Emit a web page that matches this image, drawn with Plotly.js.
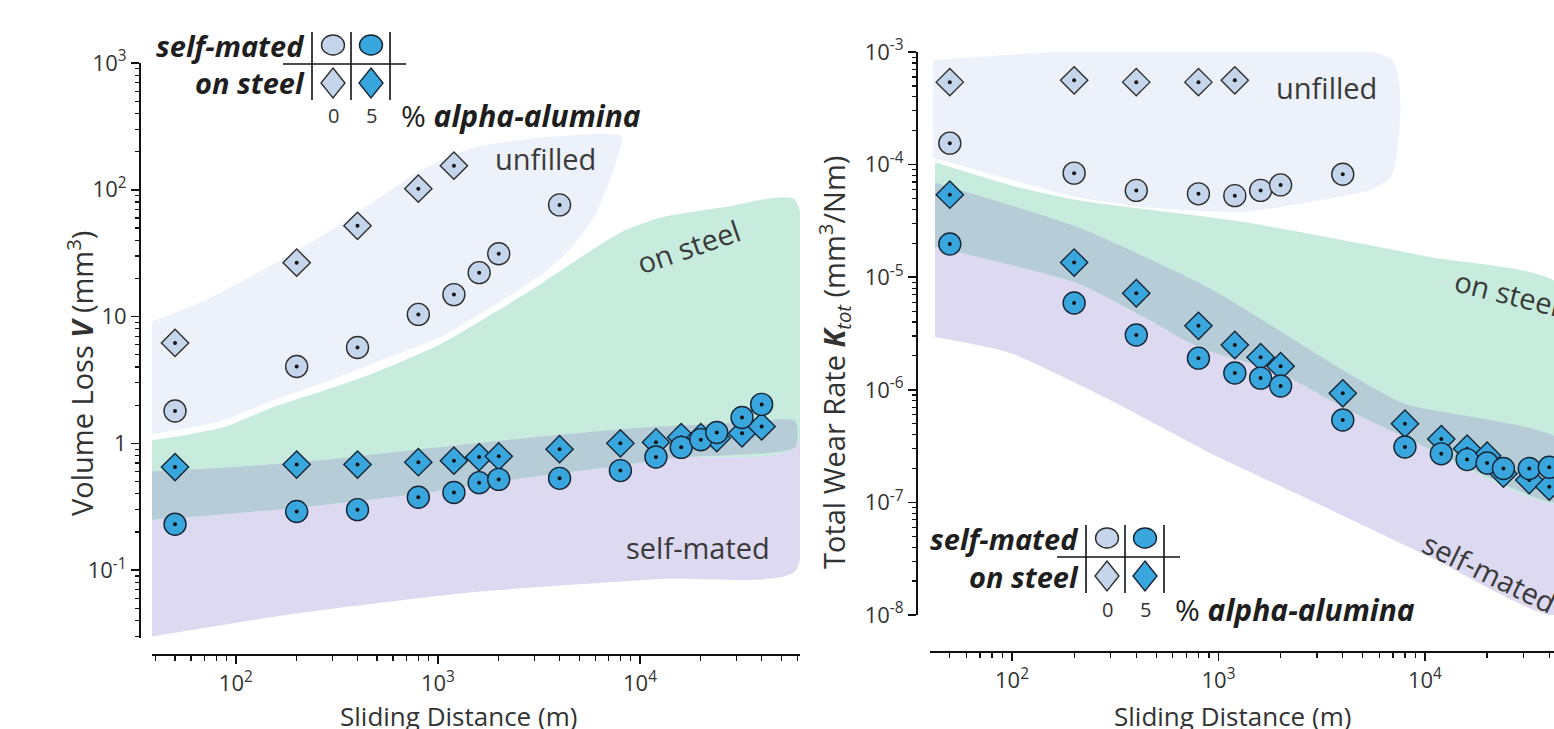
<!DOCTYPE html>
<html>
<head>
<meta charset="utf-8">
<script src="https://cdn.plot.ly/plotly-3.0.1.min.js"></script>
<style>
html,body{margin:0;padding:0;background:#ffffff;}
#chart{width:1554px;height:729px;}
</style>
</head>
<body>
<div id="chart"></div>
<script>
// ---------------- DATA ----------------
// Sliding distances (m)
const distance5 = [50, 200, 400, 800, 1200, 1600, 2000, 4000, 8000, 12000, 16000, 20000, 24000, 32000, 40000];
const distanceUnfilledSteel = [50, 200, 400, 800, 1200];
const distanceUnfilledSelf = [50, 200, 400, 800, 1200, 1600, 2000, 4000];

// Left panel: Volume loss V (mm^3)
const volUnfilledSelf = [1.8, 4.04, 5.7, 10.4, 14.9, 22.2, 31.3, 76];
const volUnfilledSteel = [6.2, 26.6, 52, 102, 155];
const volAluminaSelf = [0.23, 0.29, 0.30, 0.376, 0.41, 0.49, 0.52, 0.53, 0.61, 0.78, 0.93, 1.07, 1.22, 1.6, 2.03];
const volAluminaSteel = [0.65, 0.68, 0.68, 0.71, 0.73, 0.78, 0.79, 0.90, 1.0, 1.02, 1.12, 1.12, 1.1, 1.2, 1.36];

// Right panel: Total wear rate K_tot (mm^3/Nm)
const kUnfilledSteel = [5.4e-4, 5.6e-4, 5.4e-4, 5.4e-4, 5.6e-4];
const kUnfilledSelf = [1.55e-4, 8.4e-5, 5.9e-5, 5.5e-5, 5.3e-5, 5.9e-5, 6.6e-5, 8.2e-5];
const kAluminaSteel = [5.4e-5, 1.35e-5, 7.2e-6, 3.7e-6, 2.5e-6, 1.95e-6, 1.62e-6, 9.3e-7, 5.0e-7, 3.65e-7, 3.0e-7, 2.6e-7, 1.8e-7, 1.58e-7, 1.38e-7];
const kAluminaSelf = [1.97e-5, 5.9e-6, 3.07e-6, 1.91e-6, 1.41e-6, 1.27e-6, 1.08e-6, 5.4e-7, 3.1e-7, 2.7e-7, 2.4e-7, 2.24e-7, 2.0e-7, 2.0e-7, 2.05e-7];

// Shaded regions, left panel (distance, volume)
const bandL_unfilledLow_x = [38.4, 86.2, 152, 282, 476, 1023, 2028, 3200, 4500, 5990, 7270, 8150];
const bandL_unfilledLow_y = [1.18, 1.517, 2.18, 3.08, 4.27, 6.84, 13.1, 21.0, 33.7, 63.5, 131, 240];
const bandL_unfilledHigh_x = [38.4, 71.8, 152, 327, 805, 1490, 3200, 6340, 8150];
const bandL_unfilledHigh_y = [9.12, 13.6, 25.7, 53, 139, 215, 257, 275, 266];
const bandL_steelTop_x = [38.4, 86.2, 152, 282, 476, 1023, 2028, 3200, 5050, 8150, 12560, 27000, 58500];
const bandL_steelTop_y = [1.056, 1.336, 1.92, 2.66, 3.56, 6.02, 11.4, 17.9, 29.1, 46.7, 60.2, 73.5, 83.4];
const bandL_steelBottom_x = [38.4, 200, 800, 2000, 4000, 8000, 15000, 58500];
const bandL_steelBottom_y = [0.25, 0.31, 0.40, 0.50, 0.58, 0.67, 0.77, 0.93];
const bandL_selfTop_x = [38.4, 100, 300, 1000, 3000, 10000, 30000, 58500];
const bandL_selfTop_y = [0.60, 0.65, 0.75, 0.93, 1.12, 1.33, 1.45, 1.50];
const bandL_selfBottom_x = [38.4, 224, 1490, 12570, 58500];
const bandL_selfBottom_y = [0.030, 0.0467, 0.067, 0.085, 0.098];

// Shaded regions, right panel (distance, wear rate)
const bandR_unfilledLow_x = [41.4, 206, 430, 1315, 2775, 5500, 6920];
const bandR_unfilledLow_y = [1.15e-4, 5.15e-5, 4.2e-5, 3.8e-5, 4.65e-5, 6.0e-5, 8.0e-5];
const bandR_unfilledHigh_x = [41.4, 6920];
const bandR_unfilledHigh_y = [8.5e-4, 8.5e-4];
const bandR_steelTop_x = [42.4, 98, 206, 1315, 10570, 45000];
const bandR_steelTop_y = [1.05e-4, 6.6e-5, 4.85e-5, 3.1e-5, 1.51e-5, 8.5e-6];
const bandR_steelBottom_x = [42.4, 206, 430, 800, 2000, 4000, 8000, 45000];
const bandR_steelBottom_y = [1.86e-5, 8.9e-6, 4.5e-6, 2.4e-6, 1.4e-6, 7.0e-7, 3.8e-7, 1.0e-7];
const bandR_selfTop_x = [42.4, 206, 900, 4000, 8000, 45000];
const bandR_selfTop_y = [6.9e-5, 2.8e-5, 8e-6, 1.5e-6, 7.5e-7, 3.6e-7];
const bandR_selfBottom_x = [42.4, 98, 299, 910, 2775, 10570, 45000];
const bandR_selfBottom_y = [2.94e-6, 2.12e-6, 8.1e-7, 2.75e-7, 1.05e-7, 3.27e-8, 1.0e-8];

// Tick labels
const xTickVals = [100, 1000, 10000];
const xTickText = ['10<sup>2</sup>', '10<sup>3</sup>', '10<sup>4</sup>'];
const yLeftTickVals = [0.1, 1, 10, 100, 1000];
const yLeftTickText = ['10<sup>-1</sup>', '1', '10', '10<sup>2</sup>', '10<sup>3</sup>'];
const yRightTickVals = [1e-8, 1e-7, 1e-6, 1e-5, 1e-4, 1e-3];
const yRightTickText = ['10<sup>-8</sup>', '10<sup>-7</sup>', '10<sup>-6</sup>', '10<sup>-5</sup>', '10<sup>-4</sup>', '10<sup>-3</sup>'];

// ---------------- STYLE ----------------
const W = 1554, H = 729;
const px = v => v / W;
const py = v => 1 - v / H;
const FONT = 'Open Sans, sans-serif';
const C_UNFILLED = 'rgb(237,241,250)';
const C_STEEL = 'rgb(199,236,222)';
const C_SELF = 'rgb(220,217,240)';
const C_OVERLAP = 'rgb(182,204,215)';
const C_LIGHT = 'rgb(197,214,236)';
const C_BLUE = 'rgb(58,166,222)';
const C_EDGE_LIGHT = '#2e2e2e';
const C_EDGE_BLUE = '#152535';

function minorTicks(k0, k1) {
  const out = [];
  for (let k = k0; k <= k1; k++) for (let m = 2; m <= 9; m++) out.push(m * Math.pow(10, k));
  return out;
}

function band(lx, ly, ux, uy, color, xa, ya) {
  return {
    type: 'scatter', mode: 'lines', xaxis: xa, yaxis: ya,
    x: lx.concat(ux.slice().reverse()), y: ly.concat(uy.slice().reverse()),
    fill: 'toself', fillcolor: color,
    line: {width: 0, color: color, shape: 'spline', smoothing: 0.6},
    hoverinfo: 'skip', showlegend: false
  };
}
function markers(x, y, symbol, fill, edge, size, xa, ya) {
  return {
    type: 'scatter', mode: 'markers', xaxis: xa, yaxis: ya, x: x, y: y,
    marker: {symbol: symbol, size: size, color: fill, line: {color: edge, width: 1.4}},
    hoverinfo: 'skip', showlegend: false
  };
}
function dots(x, y, xa, ya) {
  return {
    type: 'scatter', mode: 'markers', xaxis: xa, yaxis: ya, x: x, y: y,
    marker: {symbol: 'circle', size: 4, color: '#111'},
    hoverinfo: 'skip', showlegend: false
  };
}

const traces = [
  // left bands
  band(bandL_unfilledLow_x, bandL_unfilledLow_y, bandL_unfilledHigh_x, bandL_unfilledHigh_y, C_UNFILLED, 'x', 'y'),
  band(bandL_selfBottom_x, bandL_selfBottom_y, bandL_selfTop_x, bandL_selfTop_y, C_SELF, 'x', 'y'),
  band(bandL_steelBottom_x, bandL_steelBottom_y, bandL_steelTop_x, bandL_steelTop_y, C_STEEL, 'x', 'y'),
  band(bandL_steelBottom_x, bandL_steelBottom_y, bandL_selfTop_x, bandL_selfTop_y, C_OVERLAP, 'x', 'y'),
  // right bands
  band(bandR_unfilledLow_x, bandR_unfilledLow_y, bandR_unfilledHigh_x, bandR_unfilledHigh_y, C_UNFILLED, 'x2', 'y2'),
  band(bandR_selfBottom_x, bandR_selfBottom_y, bandR_selfTop_x, bandR_selfTop_y, C_SELF, 'x2', 'y2'),
  band(bandR_steelBottom_x, bandR_steelBottom_y, bandR_steelTop_x, bandR_steelTop_y, C_STEEL, 'x2', 'y2'),
  band(bandR_steelBottom_x, bandR_steelBottom_y, bandR_selfTop_x, bandR_selfTop_y, C_OVERLAP, 'x2', 'y2'),

  // left markers
  markers(distanceUnfilledSteel, volUnfilledSteel, 'diamond', C_LIGHT, C_EDGE_LIGHT, 21, 'x', 'y'),
  dots(distanceUnfilledSteel, volUnfilledSteel, 'x', 'y'),
  markers(distance5, volAluminaSteel, 'diamond', C_BLUE, C_EDGE_BLUE, 21, 'x', 'y'),
  dots(distance5, volAluminaSteel, 'x', 'y'),
  markers(distanceUnfilledSelf, volUnfilledSelf, 'circle', C_LIGHT, C_EDGE_LIGHT, 22, 'x', 'y'),
  dots(distanceUnfilledSelf, volUnfilledSelf, 'x', 'y'),
  markers(distance5, volAluminaSelf, 'circle', C_BLUE, C_EDGE_BLUE, 22, 'x', 'y'),
  dots(distance5, volAluminaSelf, 'x', 'y'),

  // right markers
  markers(distanceUnfilledSteel, kUnfilledSteel, 'diamond', C_LIGHT, C_EDGE_LIGHT, 21, 'x2', 'y2'),
  dots(distanceUnfilledSteel, kUnfilledSteel, 'x2', 'y2'),
  markers(distance5, kAluminaSteel, 'diamond', C_BLUE, C_EDGE_BLUE, 21, 'x2', 'y2'),
  dots(distance5, kAluminaSteel, 'x2', 'y2'),
  markers(distanceUnfilledSelf, kUnfilledSelf, 'circle', C_LIGHT, C_EDGE_LIGHT, 22, 'x2', 'y2'),
  dots(distanceUnfilledSelf, kUnfilledSelf, 'x2', 'y2'),
  markers(distance5, kAluminaSelf, 'circle', C_BLUE, C_EDGE_BLUE, 22, 'x2', 'y2'),
  dots(distance5, kAluminaSelf, 'x2', 'y2')
];

// ---------------- AXES ----------------
function logAxis(opts) {
  return Object.assign({
    type: 'log', anchor: 'free', showline: true, linecolor: '#111', linewidth: 2,
    ticks: 'outside', ticklen: 8, tickwidth: 1.6, tickcolor: '#111',
    tickmode: 'array', tickfont: {family: FONT, size: 22, color: '#333'},
    showgrid: false, zeroline: false, fixedrange: true
  }, opts);
}
const minorStyle = (vals) => ({tickmode: 'array', tickvals: vals, ticks: 'outside', ticklen: 4.5, tickwidth: 1.2, tickcolor: '#111', showgrid: false});

// ---------------- LEGEND TABLES & TEXT ----------------
const shapes = [];
const annotations = [];
function seg(x0, y0, x1, y1) {
  shapes.push({type: 'line', xref: 'paper', yref: 'paper', x0: px(x0), y0: py(y0), x1: px(x1), y1: py(y1), line: {color: '#111', width: 1.6}});
}
function ellipse(cx, cy, w, h, fill, edge) {
  shapes.push({type: 'circle', xref: 'paper', yref: 'paper', x0: px(cx - w / 2), x1: px(cx + w / 2), y0: py(cy + h / 2), y1: py(cy - h / 2), fillcolor: fill, line: {color: edge, width: 1.4}});
}
function rhombus(cx, cy, w, h, fill, edge) {
  const p = 'M ' + px(cx) + ' ' + py(cy - h / 2) + ' L ' + px(cx + w / 2) + ' ' + py(cy) + ' L ' + px(cx) + ' ' + py(cy + h / 2) + ' L ' + px(cx - w / 2) + ' ' + py(cy) + ' Z';
  shapes.push({type: 'path', xref: 'paper', yref: 'paper', path: p, fillcolor: fill, line: {color: edge, width: 1.4}});
}
function ann(x, y, text, o) {
  o = o || {};
  annotations.push({
    xref: 'paper', yref: 'paper', x: px(x), y: py(y), text: text, showarrow: false,
    xanchor: o.xa || 'center', yanchor: o.ya || 'middle', textangle: o.angle || 0,
    font: {family: FONT, size: o.size || 29, color: o.color || '#3a3a3a', weight: o.weight || 'normal', style: o.style || 'normal'}
  });
}
function legendTable(tx, ty) {
  // tx: right end of row labels, ty: center of first row
  const c1 = tx + 26, c2 = tx + 64;
  seg(tx + 5, ty - 13, tx + 5, ty + 55);
  seg(tx + 44, ty - 13, tx + 44, ty + 55);
  seg(tx + 83, ty - 13, tx + 83, ty + 55);
  seg(tx - 24, ty + 19, tx + 99, ty + 19);
  ellipse(c1, ty, 23, 20, C_LIGHT, C_EDGE_LIGHT);
  ellipse(c2, ty, 23, 20, C_BLUE, C_EDGE_BLUE);
  rhombus(c1, ty + 38, 24, 30, C_LIGHT, C_EDGE_LIGHT);
  rhombus(c2, ty + 38, 24, 30, C_BLUE, C_EDGE_BLUE);
  ann(tx, ty, 'self-mated', {xa: 'right', size: 29, color: '#1e1e1e', weight: 'bold', style: 'italic'});
  ann(tx, ty + 38, 'on steel', {xa: 'right', size: 29, color: '#1e1e1e', weight: 'bold', style: 'italic'});
  ann(c1, ty + 71, '0', {size: 20, color: '#333'});
  ann(c2, ty + 71, '5', {size: 20, color: '#333'});
  ann(tx + 92, ty + 71, '% <b><i>alpha-alumina</i></b>', {xa: 'left', size: 30, color: '#1e1e1e'});
}
legendTable(307, 45);
legendTable(1081, 538);

// region labels
ann(545, 158, 'unfilled');
ann(688, 246, 'on steel', {angle: -19});
ann(698, 547, 'self-mated');
ann(1326, 88, 'unfilled');
ann(1507, 292, 'on steel', {angle: 14});
ann(1490, 572, 'self-mated', {angle: 26});

// axis titles
ann(80, 374, 'Volume Loss <b><i>V</i></b> (mm<sup>3</sup>)', {angle: -90, size: 29, color: '#333'});
ann(834, 363, 'Total Wear Rate <b><i>K</i></b><sub><i>tot</i></sub> (mm<sup>3</sup>/Nm)', {angle: -90, size: 29, color: '#333'});
ann(458, 716, 'Sliding Distance (m)', {size: 26, color: '#333'});
ann(1232, 716, 'Sliding Distance (m)', {size: 26, color: '#333'});

const layout = {
  width: W, height: H,
  margin: {l: 0, r: 0, t: 0, b: 0, pad: 0},
  paper_bgcolor: '#ffffff', plot_bgcolor: 'rgba(0,0,0,0)',
  showlegend: false,
  font: {family: FONT, color: '#333'},
  xaxis: logAxis({range: [1.585, 4.792], domain: [px(152), px(800)], position: py(655),
    tickvals: xTickVals, ticktext: xTickText, ticklabelstandoff: 1, minor: minorStyle(minorTicks(1, 4))}),
  yaxis: logAxis({range: [-1.535, 3], domain: [py(638), py(63)], position: px(140),
    tickvals: yLeftTickVals, ticktext: yLeftTickText, minor: minorStyle(minorTicks(-2, 2))}),
  xaxis2: logAxis({range: [1.603, 4.625], domain: [px(930), 1], position: py(652),
    tickvals: xTickVals, ticktext: xTickText, ticklabelstandoff: 1, minor: minorStyle(minorTicks(1, 4))}),
  yaxis2: logAxis({range: [-8, -3], domain: [py(615), py(52)], position: px(917),
    tickvals: yRightTickVals, ticktext: yRightTickText, minor: minorStyle(minorTicks(-9, -4))}),
  shapes: shapes,
  annotations: annotations
};

Plotly.newPlot('chart', traces, layout, {staticPlot: true, displayModeBar: false, responsive: false});
</script>
</body>
</html>
